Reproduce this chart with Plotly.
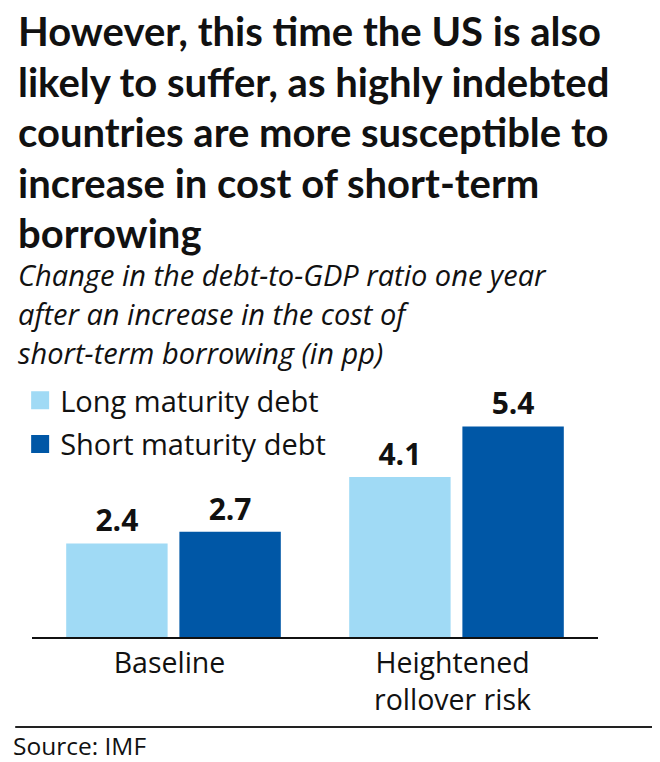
import plotly.graph_objects as go

categories = ["Baseline", "Heightened<br>rollover risk"]
series_names = ["Long maturity debt", "Short maturity debt"]
long_values = [2.4, 4.1]
short_values = [2.7, 5.4]
colors = ["#a0daf5", "#0057a6"]

title_lines = [
    "However, this time the US is also",
    "likely to suffer, as highly indebted",
    "countries are more susceptible to",
    "increase in cost of short-term",
    "borrowing",
]
subtitle_lines = [
    "Change in the debt-to-GDP ratio one year",
    "after an increase in the cost of",
    "short-term borrowing (in pp)",
]
source_text = "Source: IMF"

OFF = 8  # page body margin
W, H = 660 - OFF, 762 - OFF
# plot area in page px
P_L, P_R, P_T, P_B = 25, 598, 380, 637
PL, PR, PT, PB = P_L - OFF, P_R - OFF, P_T - OFF, P_B - OFF


def xp(page_px):
    return (page_px - OFF - PL) / (PR - PL)


def yp(page_py):
    return (PB - (page_py - OFF)) / (PB - PT)


TITLE_FONT = "Lato, sans-serif"
BODY_FONT = "Open Sans, sans-serif"
INK = "#111111"

fig = go.Figure()
for name, vals, col in zip(series_names, [long_values, short_values], colors):
    fig.add_trace(go.Bar(
        x=categories, y=vals, name=name, marker=dict(color=col, line=dict(width=0)),
        text=[f"{v:.1f}" for v in vals], textposition="outside",
        textfont=dict(family=BODY_FONT, size=30, color=INK, weight="bold"),
        cliponaxis=False, showlegend=False,
    ))
# legend entries
for i, (name, col) in enumerate(zip(series_names, colors)):
    fig.add_trace(go.Scatter(
        x=[None], y=[None], mode="markers", name=name, legendgroup=f"g{i}",
        marker=dict(symbol="square", size=16, color=col, line=dict(color=col, width=2)),
    ))

annotations = []
for i, line in enumerate(title_lines):
    annotations.append(dict(
        text=line, x=xp(9), y=yp(31 + i * 50.6), xref="paper", yref="paper",
        xanchor="left", yanchor="middle", showarrow=False,
        font=dict(family=TITLE_FONT, size=40, color=INK, weight="bold"),
    ))
for i, line in enumerate(subtitle_lines):
    annotations.append(dict(
        text=f"<i>{line}</i>", x=xp(9), y=yp(274 + i * 39), xref="paper", yref="paper",
        xanchor="left", yanchor="middle", showarrow=False,
        font=dict(family=BODY_FONT, size=29, color=INK),
    ))
annotations.append(dict(
    text=source_text, x=xp(4), y=yp(745), xref="paper", yref="paper",
    xanchor="left", yanchor="middle", showarrow=False,
    font=dict(family=BODY_FONT, size=24.5, color=INK),
))

fig.update_layout(
    width=W, height=H,
    margin=dict(l=PL, r=W - PR, t=PT, b=H - PB, pad=0),
    paper_bgcolor="white", plot_bgcolor="white",
    barmode="group", bargap=0.2, bargroupgap=0.104,
    showlegend=True,
    legend=dict(
        x=xp(13), y=yp(375), xanchor="left", yanchor="top",
        font=dict(family=BODY_FONT, size=29, color=INK),
        traceorder="grouped", tracegroupgap=3, bgcolor="rgba(0,0,0,0)",
        itemwidth=30,
    ),
    annotations=annotations,
    shapes=[dict(type="line", xref="paper", yref="paper",
                 x0=xp(OFF), x1=xp(660), y0=yp(727), y1=yp(727),
                 line=dict(color="#222222", width=2))],
    xaxis=dict(showline=True, linecolor=INK, linewidth=1.5, ticks="",
               tickfont=dict(family=BODY_FONT, size=28.5, color=INK),
               ticklabelshift=-4,
               showgrid=False, zeroline=False),
    yaxis=dict(range=[0, (PB - PT) / 39.0], visible=False, showgrid=False, zeroline=False),
)

fig.write_html("out.html")
